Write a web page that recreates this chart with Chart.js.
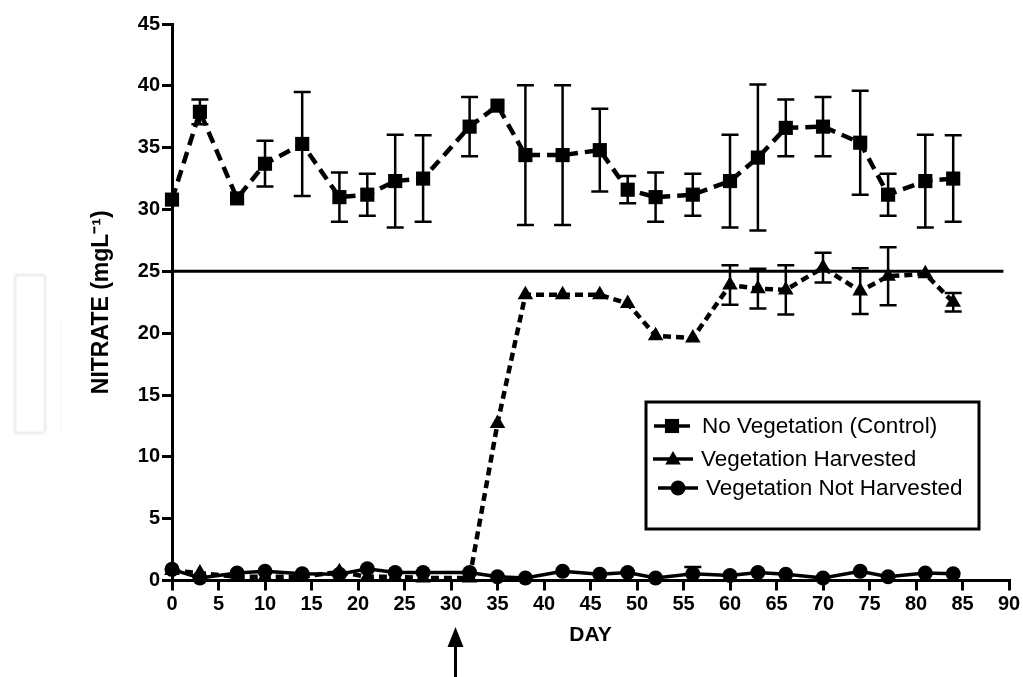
<!DOCTYPE html>
<html>
<head>
<meta charset="utf-8">
<title>Nitrate</title>
<script src="https://cdn.jsdelivr.net/npm/chart.js@4.4.0/dist/chart.umd.min.js"></script>
<style>
  html, body { margin: 0; padding: 0; background: #fff; }
  #wrap { position: relative; width: 1023px; height: 677px; }
</style>
</head>
<body>
<div id="wrap"><canvas id="nitrateChart" width="1023" height="677"></canvas></div>
<script>
// sampling days
const days = [0, 3, 7, 10, 14, 18, 21, 24, 27, 32, 35, 38, 42, 46, 49, 52, 56, 60, 63, 66, 70, 74, 77, 81, 84];

// No Vegetation (Control)
const controlMean = [30.8, 37.9, 30.9, 33.7, 35.3, 31.0, 31.2, 32.3, 32.5, 36.7, 38.4, 34.4, 34.4, 34.8, 31.6, 31.0, 31.2, 32.3, 34.2, 36.6, 36.7, 35.4, 31.2, 32.3, 32.5];
const controlErr  = [0, 1.0, 0, 1.85, 4.2, 2.0, 1.7, 3.75, 3.5, 2.4, 0, 5.65, 5.65, 3.35, 1.1, 2.0, 1.7, 3.75, 5.9, 2.3, 2.4, 4.2, 1.7, 3.75, 3.5];

// Vegetation Harvested
const harvestedMean = [0.8, 0.6, 0.3, 0.3, 0.3, 0.7, 0.3, 0.3, 0.2, 0.2, 12.7, 23.1, 23.1, 23.1, 22.4, 19.8, 19.6, 23.9, 23.6, 23.5, 25.3, 23.4, 24.6, 24.8, 22.5];
const harvestedErr  = [0, 0, 0, 0, 0, 0, 0, 0, 0, 0, 0, 0, 0, 0, 0, 0, 0, 1.6, 1.6, 2.0, 1.2, 1.85, 2.35, 0, 0.75];

// Vegetation Not Harvested
const notHarvestedMean = [0.9, 0.2, 0.6, 0.75, 0.55, 0.5, 0.95, 0.65, 0.65, 0.65, 0.3, 0.2, 0.75, 0.5, 0.65, 0.2, 0.55, 0.4, 0.65, 0.5, 0.2, 0.75, 0.3, 0.6, 0.55];
const notHarvestedErr  = [0, 0, 0, 0, 0, 0, 0, 0, 0, 0, 0, 0, 0, 0, 0, 0, 0.55, 0, 0, 0, 0, 0, 0, 0, 0];

// 25 mg/L limit line and harvest day arrow
const limitDays = [0, 89.4];
const limitValue = 25;
const harvestDay = 30.4;

const seriesLabels = ["No Vegetation (Control)", "Vegetation Harvested", "Vegetation Not Harvested"];

const FONT = '"Liberation Sans", Arial, Helvetica, sans-serif';

function pairs(xs, ys) {
  return xs.map((x, i) => ({ x: x, y: ys[i] }));
}

// error bars, drawn from the y scale
const errorBars = {
  id: "errorBars",
  afterDatasetsDraw(chart) {
    const ctx = chart.ctx;
    const yScale = chart.scales.y;
    const xScale = chart.scales.x;
    ctx.save();
    ctx.strokeStyle = "#000";
    ctx.lineWidth = 2.5;
    chart.data.datasets.forEach(ds => {
      if (!ds.errors) return;
      ds.data.forEach((p, i) => {
        const e = ds.errors[i];
        if (!e) return;
        const x = xScale.getPixelForValue(p.x);
        const yTop = yScale.getPixelForValue(p.y + e);
        const yBot = yScale.getPixelForValue(p.y - e);
        ctx.beginPath();
        ctx.moveTo(x, yTop); ctx.lineTo(x, yBot);
        ctx.moveTo(x - 8.5, yTop); ctx.lineTo(x + 8.5, yTop);
        ctx.moveTo(x - 8.5, yBot); ctx.lineTo(x + 8.5, yBot);
        ctx.stroke();
      });
    });
    ctx.restore();
  }
};

function marker(ctx, style, x, y, r) {
  ctx.beginPath();
  if (style === "rect") {
    const s = r * Math.SQRT1_2;
    ctx.rect(x - s, y - s, 2 * s, 2 * s);
  } else if (style === "triangle") {
    ctx.moveTo(x, y - r);
    ctx.lineTo(x + r * 0.866, y + r * 0.5);
    ctx.lineTo(x - r * 0.866, y + r * 0.5);
    ctx.closePath();
  } else {
    ctx.arc(x, y, r, 0, Math.PI * 2);
  }
  ctx.fill();
}

// boxed legend inside the plot plus the harvest arrow under the axis
const boxLegend = {
  id: "boxLegend",
  beforeDraw(chart) {
    // faint frame on the left edge of the page
    const ctx = chart.ctx;
    ctx.save();
    ctx.strokeStyle = "#f0f0f0";
    ctx.lineWidth = 3;
    ctx.beginPath();
    ctx.roundRect(15, 275, 30, 158, 3);
    ctx.stroke();
    ctx.strokeStyle = "#f4f4f4";
    ctx.lineWidth = 1;
    ctx.beginPath();
    ctx.moveTo(60.5, 320); ctx.lineTo(60.5, 432);
    ctx.stroke();
    ctx.restore();
  },
  afterDraw(chart) {
    const ctx = chart.ctx;
    ctx.save();
    ctx.fillStyle = "#fff";
    ctx.fillRect(646, 402, 333, 127);
    ctx.strokeStyle = "#000";
    ctx.lineWidth = 3;
    ctx.strokeRect(646, 402, 333, 127);

    const rows = [
      { y: 426, x0: 654, x1: 690, tx: 702 },
      { y: 459, x0: 653, x1: 693, tx: 701 },
      { y: 488, x0: 658, x1: 698, tx: 706 }
    ];
    const sets = [chart.data.datasets[2], chart.data.datasets[1], chart.data.datasets[0]];
    ctx.font = "22.5px " + FONT;
    ctx.textBaseline = "middle";
    ctx.textAlign = "left";
    rows.forEach((r, i) => {
      const ds = sets[i];
      ctx.strokeStyle = "#000";
      ctx.fillStyle = "#000";
      ctx.lineWidth = 3.5;
      ctx.beginPath();
      ctx.moveTo(r.x0, r.y); ctx.lineTo(r.x1, r.y);
      ctx.stroke();
      marker(ctx, ds.pointStyle, (r.x0 + r.x1) / 2, r.y + (ds.pointStyle === "triangle" ? 1 : 0), ds.pointRadius);
      ctx.fillText(ds.label, r.tx, r.y + 1);
    });

    // arrow marking harvest
    const ax = Math.round(chart.scales.x.getPixelForValue(harvestDay)) + 0.5;
    ctx.lineWidth = 3;
    ctx.beginPath();
    ctx.moveTo(ax, 677); ctx.lineTo(ax, 640);
    ctx.stroke();
    ctx.beginPath();
    ctx.moveTo(ax, 627);
    ctx.lineTo(ax + 8, 647);
    ctx.lineTo(ax - 8, 647);
    ctx.closePath();
    ctx.fill();
    ctx.restore();
  }
};

const ctx = document.getElementById("nitrateChart");

new Chart(ctx, {
  type: "line",
  data: {
    datasets: [
      {
        label: seriesLabels[2],
        data: pairs(days, notHarvestedMean),
        errors: notHarvestedErr,
        borderColor: "#000",
        backgroundColor: "#000",
        borderWidth: 3.5,
        pointStyle: "circle",
        pointRadius: 7.5,
        pointBorderWidth: 0,
        tension: 0,
        clip: false
      },
      {
        label: seriesLabels[1],
        data: pairs(days, harvestedMean),
        errors: harvestedErr,
        borderColor: "#000",
        backgroundColor: "#000",
        borderWidth: 4.5,
        borderDash: [8, 5],
        pointStyle: "triangle",
        pointRadius: 9,
        pointBorderWidth: 0,
        tension: 0,
        clip: false
      },
      {
        label: seriesLabels[0],
        data: pairs(days, controlMean),
        errors: controlErr,
        borderColor: "#000",
        backgroundColor: "#000",
        borderWidth: 4.5,
        borderDash: [12, 7],
        pointStyle: "rect",
        pointRadius: 10,
        pointBorderWidth: 0,
        tension: 0,
        clip: false
      },
      {
        label: "limit",
        data: pairs(limitDays, [limitValue, limitValue]),
        borderColor: "#000",
        borderWidth: 3,
        pointRadius: 0,
        tension: 0
      }
    ]
  },
  options: {
    responsive: false,
    animation: false,
    events: [],
    layout: { padding: { top: 24, right: 14, left: 0, bottom: 0 } },
    plugins: {
      legend: { display: false },
      tooltip: { enabled: false }
    },
    scales: {
      x: {
        type: "linear",
        min: 0,
        max: 90,
        ticks: {
          stepSize: 5,
          color: "#000",
          padding: 2,
          font: { family: FONT, size: 20, weight: "bold" }
        },
        grid: {
          drawOnChartArea: false,
          drawTicks: true,
          tickLength: 10,
          color: "#000",
          lineWidth: 3
        },
        border: { display: true, color: "#000", width: 3 },
        title: {
          display: true,
          text: "DAY",
          color: "#000",
          font: { family: FONT, size: 21, weight: "bold" },
          padding: { top: 0, bottom: 29 }
        },
        afterFit(scale) { scale.height = 96.5; }
      },
      y: {
        min: 0,
        max: 45,
        ticks: {
          stepSize: 5,
          color: "#000",
          padding: 2,
          font: { family: FONT, size: 20, weight: "bold" }
        },
        grid: {
          drawOnChartArea: false,
          drawTicks: true,
          tickLength: 10,
          color: "#000",
          lineWidth: 3
        },
        border: { display: true, color: "#000", width: 3 },
        title: {
          display: true,
          text: "NITRATE (mgL\u207B\u00B9)",
          color: "#000",
          font: { family: FONT, size: 23, weight: "bold" },
          padding: { top: 88, bottom: 0 }
        },
        afterFit(scale) { scale.width = 172; }
      }
    }
  },
  plugins: [errorBars, boxLegend]
});
</script>
</body>
</html>
